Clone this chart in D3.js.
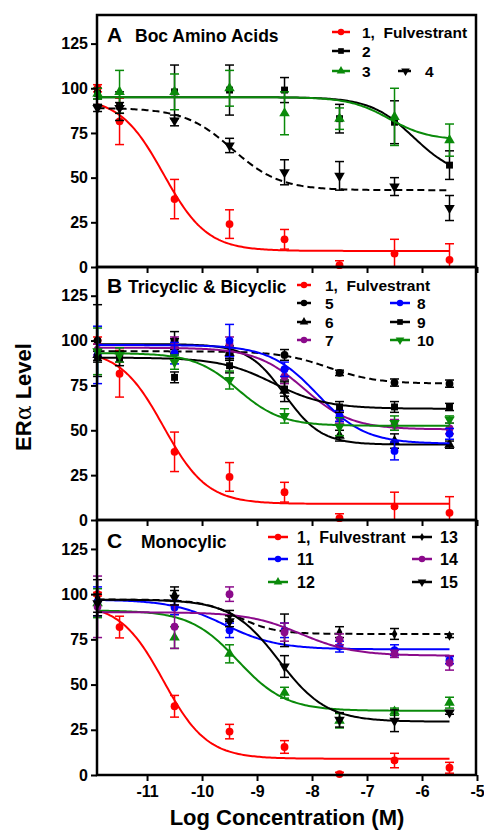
<!DOCTYPE html>
<meta charset="utf-8">
<style>
body{
    margin: 0;
    background: #fff;
    font-family: "Liberation Sans", Arial, sans-serif;
}
text{
    font-weight: bold;
    fill: #000;
}
.frame{
    fill: none;
    stroke: #000;
    stroke-width: 2.5;
}
.axis path{
    display: none;
}
.axis line{
    stroke: #000;
    stroke-width: 2;
}
.axis text{
    font-size: 16px;
    font-weight: bold;
    font-family: "Liberation Sans", Arial, sans-serif;
}
.curve{
    fill: none;
    stroke-width: 2;
}
.err{
    stroke-width: 1.5;
}
</style>
<svg width="484" height="831"></svg>
<script src="https://d3js.org/d3.v7.min.js"></script>
<script>

// log concentrations (M) where ER-alpha was measured
var logConc = [-11.9, -11.5, -10.5, -9.5, -8.5, -7.5, -6.5, -5.5];
var xTicks = [-11, -10, -9, -8, -7, -6, -5];
var yTicks = [0, 25, 50, 75, 100, 125];

// means and error bars (null = no point shown)
var fulvMean  = [100, 81.5, 38, 24, 15.5, 1, 7.5, 4];
var fulvErr   = [2, 13, 11, 8, 5.5, 2.5, 8, 9];
var fulvMeanC = [100, 81.8, 38, 24, 15.5, 0.5, 8, 4];
var fulvErrC  = [1, 6, 6, 4, 3.5, 1, 4, 3];

var c2Mean = [97, 90, 98, 99, 99, 83, 81, 57];
var c2Err  = [3, 8, 15, 14, 7, 8, 12, 8];
var c3Mean = [97, 98, 98, 100, 86, 83, 84, 71];
var c3Err  = [3, 12, 10, 10, 12, 6, 16, 9];
var c4Mean = [89, 89, 82, 68, 53, 51, 45, 33];
var c4Err  = [2, 3, 3, 4, 7, 8, 5, 7];

var c5Mean  = [100, null, 100, 93, 92, 82, 76.6, 76];
var c5Err   = [20, 0, 5, 3, 3, 1.5, 2, 2];
var c6Mean  = [92, null, 97, 93, 72, 47, 44, 42];
var c6Err   = [3, 0, 4, 4, 6, 3, 4, 2];
var c7Mean  = [95, 92, 97, 98, 80, 57, 53, 51];
var c7Err   = [3, 4, 5, 4, 4, 3, 3, 3];
var c8Mean  = [92, null, 93, 100, 84, 58, 38.5, 48];
var c8Err   = [16, 0, 6, 9, 4, 3, 5, 3];
var c9Mean  = [91, 90, 79.5, 86, 73, 63, 63, 63];
var c9Err   = [3, 4, 3, 4, 4, 3, 3, 2];
var c10Mean = [94, 92, 88, 78, 58, 52, 54, 56];
var c10Err  = [13, 4, 4, 5, 4, 5, 4, 2];

var c11Mean = [96, null, 92.6, 80, 80, 71, 69, 63.5];
var c11Err  = [8, 0, 4, 4, 4, 3, 3, 2];
var c12Mean = [95, null, 76, 67, 45.5, 30, 35, 40];
var c12Err  = [8, 0, 6, 5, 3, 4, 2, 3];
var c13Mean = [98, null, 100, 88, 80, 79, 78, 77];
var c13Err  = [10, 0, 4, 3, 9, 3, 3, 1];
var c14Mean = [93, null, 82, 100, 79, 75, 67, 62];
var c14Err  = [17, 0, 12, 4, 5, 3, 2, 4];
var c15Mean = [95, null, 98, 85, 60, 30.5, 30, 34.6];
var c15Err  = [5, 0, 4, 3, 6, 4, 6, 1];

// 4-parameter dose-response fits: [top, bottom, logIC50, hill]
var fulvFit = [95, 9, -10.7, 1.1];
var c2Fit  = [95, 50, -6.15, 1.1];
var c3Fit  = [95, 71, -6.6, 1.2];
var c4Fit  = [89, 43, -9.45, 1.0];
var c5Fit  = [94, 76, -7.7, 1.0];
var c6Fit  = [98, 42, -8.5, 1.3];
var c7Fit  = [96, 50.5, -8.15, 1.0];
var c8Fit  = [97.5, 42.5, -7.9, 1.0];
var c9Fit  = [90.5, 62, -8.7, 0.9];
var c10Fit = [93, 52.5, -9.35, 1.1];
var c11Fit = [97, 69.5, -9.6, 0.9];
var c12Fit = [91, 35.5, -9.35, 1.0];
var c13Fit = [97, 78, -9.35, 1.3];
var c14Fit = [90, 66, -8.2, 0.9];
var c15Fit = [97, 29.5, -8.6, 1.0];

var colour = {
    red: '#ff0000',
    black: '#000000',
    green: '#0a8a0a',
    blue: '#0000ff',
    purple: '#8b0a8b'
};

var fulv = {name: '1,  Fulvestrant', c: colour.red, sym: d3.symbolCircle, mean: fulvMean, err: fulvErr, fit: fulvFit};
var fulvC = {name: '1,  Fulvestrant', c: colour.red, sym: d3.symbolCircle, mean: fulvMeanC, err: fulvErrC, fit: fulvFit};

var panels = [
    {letter: 'A', title: 'Boc Amino Acids', top: 15, bottom: 267, titleY: 42, titleX: 135,
        legendCols: [[332, 350, 362], [398, 413, 425]], legendRows: [32, 51, 71], legendFont: 15.5,
        series: [
            {s: fulv, col: 0, row: 0},
            {s: {name: '2', c: colour.black, sym: d3.symbolSquare, mean: c2Mean, err: c2Err, fit: c2Fit}, col: 0, row: 1},
            {s: {name: '3', c: colour.green, sym: d3.symbolTriangle, mean: c3Mean, err: c3Err, fit: c3Fit}, col: 0, row: 2},
            {s: {name: '4', c: colour.black, sym: 'down', dashed: true, legendDash: true, mean: c4Mean, err: c4Err, fit: c4Fit}, col: 1, row: 2}
        ]},
    {letter: 'B', title: 'Tricyclic & Bicyclic', top: 267, bottom: 520, titleY: 293, titleX: 128,
        legendCols: [[297, 311, 325], [390, 410, 417]], legendRows: [285, 303, 322, 340], legendFont: 15.5,
        series: [
            {s: fulv, col: 0, row: 0},
            {s: {name: '5', c: colour.black, sym: d3.symbolCircle, dashed: true, mean: c5Mean, err: c5Err, fit: c5Fit}, col: 0, row: 1},
            {s: {name: '6', c: colour.black, sym: d3.symbolTriangle, mean: c6Mean, err: c6Err, fit: c6Fit}, col: 0, row: 2},
            {s: {name: '7', c: colour.purple, sym: d3.symbolCircle, mean: c7Mean, err: c7Err, fit: c7Fit}, col: 0, row: 3},
            {s: {name: '8', c: colour.blue, sym: d3.symbolCircle, mean: c8Mean, err: c8Err, fit: c8Fit}, col: 1, row: 1},
            {s: {name: '9', c: colour.black, sym: d3.symbolSquare, mean: c9Mean, err: c9Err, fit: c9Fit}, col: 1, row: 2},
            {s: {name: '10', c: colour.green, sym: 'down', mean: c10Mean, err: c10Err, fit: c10Fit}, col: 1, row: 3}
        ]},
    {letter: 'C', title: 'Monocylic', top: 520, bottom: 775, titleY: 548, titleX: 141,
        legendCols: [[268, 288, 297], [412, 432, 440]], legendRows: [537, 559, 582], legendFont: 16,
        series: [
            {s: fulvC, col: 0, row: 0},
            {s: {name: '11', c: colour.blue, sym: d3.symbolCircle, mean: c11Mean, err: c11Err, fit: c11Fit}, col: 0, row: 1},
            {s: {name: '12', c: colour.green, sym: d3.symbolTriangle, mean: c12Mean, err: c12Err, fit: c12Fit}, col: 0, row: 2},
            {s: {name: '13', c: colour.black, sym: d3.symbolDiamond, small: true, dashed: true, mean: c13Mean, err: c13Err, fit: c13Fit}, col: 1, row: 0},
            {s: {name: '14', c: colour.purple, sym: d3.symbolCircle, mean: c14Mean, err: c14Err, fit: c14Fit}, col: 1, row: 1},
            {s: {name: '15', c: colour.black, sym: 'down', mean: c15Mean, err: c15Err, fit: c15Fit}, col: 1, row: 2}
        ]}
];

var svg = d3.select('svg');
var left = 97, right = 477;

var x = d3.scaleLinear()
    .domain([-11.91, -5])
    .range([left, right]);

function doseResponse(p, lx){
    return p[1] + (p[0] - p[1]) / (1 + Math.pow(10, (lx - p[2]) * p[3]));
}

function symbolPath(s, size){
    if (s.sym == 'down'){
        return d3.symbol().type(d3.symbolTriangle).size(size)();
    }
    return d3.symbol().type(s.sym).size(s.small ? size * 0.6 : size)();
}

function markerAt(g, s, cx, cy, size){
    g.append('path')
        .attr('d', symbolPath(s, size))
        .attr('fill', s.c)
        .attr('transform', 'translate(' + cx + ',' + cy + ')' + (s.sym == 'down' ? ' rotate(180)' : ''));
}

panels.forEach(function(p){
    var y = d3.scaleLinear()
        .domain([0, 141])
        .range([p.bottom, p.top]);

    var g = svg.append('g').attr('class', 'panel');

    var line = d3.line()
        .x(function(d){ return x(d); })
        .y(function(d){ return y(0); });

    var curveX = d3.range(0, 201).map(function(i){
        return logConc[0] + (logConc[logConc.length - 1] - logConc[0]) * i / 200;
    });

    p.series.forEach(function(item){
        var s = item.s;
        var pts = logConc.map(function(lx, i){
            return {x: lx, v: s.mean[i], e: s.err[i]};
        }).filter(function(d){ return d.v != null; });

        var sg = g.append('g');

        sg.append('path')
            .datum(curveX)
            .attr('class', 'curve')
            .attr('stroke', s.c)
            .attr('stroke-dasharray', s.dashed ? '7,4' : null)
            .attr('d', d3.line()
                .x(function(d){ return x(d); })
                .y(function(d){ return y(doseResponse(s.fit, d)); }));

        var eb = sg.selectAll('g.eb')
            .data(pts.filter(function(d){ return d.e > 0; }))
            .enter()
            .append('g')
            .attr('class', 'eb')
            .attr('stroke', s.c);

        eb.append('line')
            .attr('class', 'err')
            .attr('x1', function(d){ return x(d.x); })
            .attr('x2', function(d){ return x(d.x); })
            .attr('y1', function(d){ return y(Math.max(0, d.v - d.e)); })
            .attr('y2', function(d){ return y(d.v + d.e); });

        [-1, 1].forEach(function(sign){
            eb.append('line')
                .attr('class', 'err')
                .attr('x1', function(d){ return x(d.x) - 4.5; })
                .attr('x2', function(d){ return x(d.x) + 4.5; })
                .attr('y1', function(d){ return y(Math.max(0, d.v + sign * d.e)); })
                .attr('y2', function(d){ return y(Math.max(0, d.v + sign * d.e)); });
        });

        pts.forEach(function(d){
            markerAt(sg, s, x(d.x), y(d.v), 48);
        });

        // legend entry
        var col = p.legendCols[item.col];
        var ly = p.legendRows[item.row];
        g.append('line')
            .attr('x1', col[0]).attr('x2', col[1])
            .attr('y1', ly).attr('y2', ly)
            .attr('stroke', s.c)
            .attr('stroke-width', 2.5)
            .attr('stroke-dasharray', s.legendDash ? '5,3' : null);
        markerAt(g, s, (col[0] + col[1]) / 2, ly, 32);
        g.append('text')
            .attr('x', col[2])
            .attr('y', ly + p.legendFont * 0.36)
            .style('font-size', p.legendFont + 'px')
            .style('white-space', 'pre')
            .attr('xml:space', 'preserve')
            .text(s.name);
    });

    // axes
    g.append('g')
        .attr('class', 'axis')
        .attr('transform', 'translate(' + left + ',0)')
        .call(d3.axisLeft(y).tickValues(yTicks).tickSize(6).tickPadding(3)
            .tickFormat(function(d){ return String(d); }));

    var xa = g.append('g')
        .attr('class', 'axis')
        .attr('transform', 'translate(0,' + p.bottom + ')')
        .call(d3.axisBottom(x).tickValues(xTicks).tickSize(6).tickPadding(5)
            .tickFormat(function(d){ return String(d); }));
    if (p.letter != 'C') xa.selectAll('text').remove();

    g.append('rect')
        .attr('class', 'frame')
        .attr('x', left)
        .attr('y', p.top)
        .attr('width', right - left - 1)
        .attr('height', p.bottom - p.top);

    g.append('text')
        .attr('x', 107)
        .attr('y', p.titleY)
        .style('font-size', '21px')
        .text(p.letter);
    g.append('text')
        .attr('x', p.titleX)
        .attr('y', p.titleY)
        .style('font-size', '17.5px')
        .text(p.title);
});

// axis titles
svg.append('text')
    .attr('transform', 'translate(31,397) rotate(-90)')
    .attr('text-anchor', 'middle')
    .style('font-size', '22px')
    .html('ER<tspan style="font-weight:normal;font-family:\'DejaVu Serif\', serif">α</tspan> Level');

svg.append('text')
    .attr('x', 287)
    .attr('y', 825)
    .attr('text-anchor', 'middle')
    .style('font-size', '22px')
    .text('Log Concentration (M)');

</script>
